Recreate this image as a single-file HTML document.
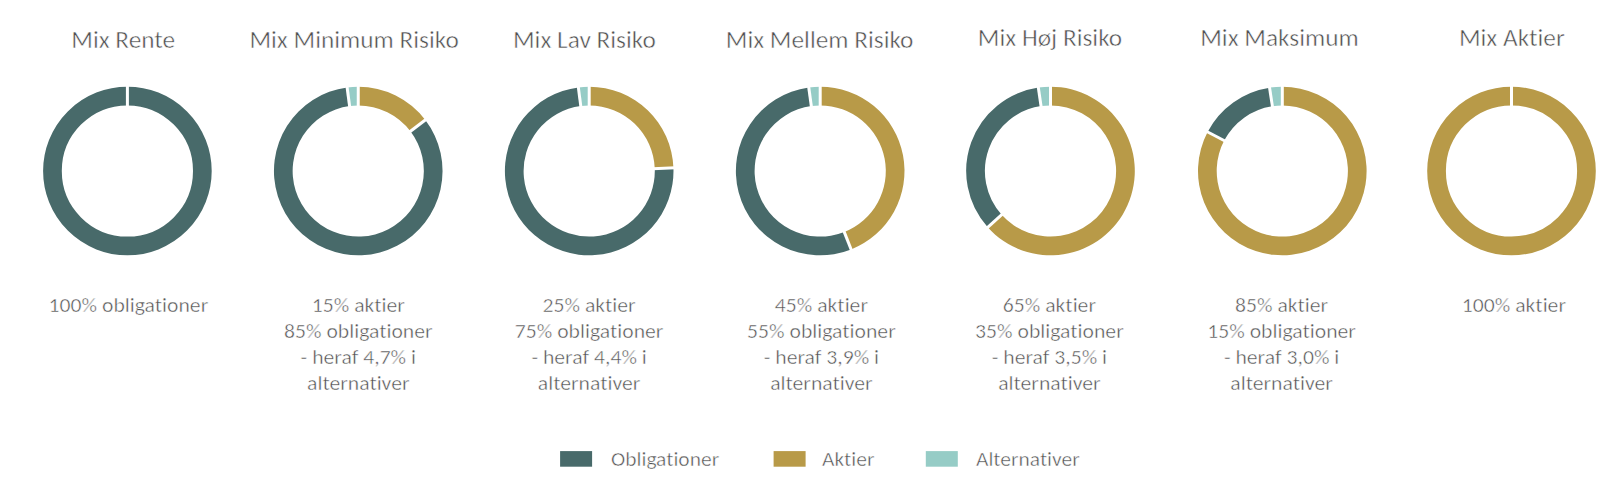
<!DOCTYPE html>
<html><head><meta charset="utf-8"><title>Mix fordeling</title>
<style>
html,body{margin:0;padding:0;background:#fff;}
body{width:1610px;height:479px;overflow:hidden;}
svg{display:block;}
text{font-family:Carlito, 'Liberation Sans', sans-serif;fill:#4f4f4f;stroke:#fff;stroke-width:0.5px;font-variant-ligatures:none;font-feature-settings:'liga' 0;}
.t{font-size:25.3px;text-anchor:middle;}
.l{font-size:21.7px;text-anchor:middle;}
.g{font-size:21.5px;}
</style></head><body>
<svg width="1610" height="479" viewBox="0 0 1610 479">
<rect width="1610" height="479" fill="#fff"/>
<circle cx="127.4" cy="171.0" r="74.950" fill="none" stroke="#486a6a" stroke-width="18.700"/>
<line x1="127.40" y1="107.40" x2="127.40" y2="84.70" stroke="#fff" stroke-width="3.0"/>
<path d="M358.25 86.70A84.3 84.3 0 0 1 425.31 119.92L410.43 131.25A65.6 65.6 0 0 0 358.25 105.40Z" fill="#b89a48"/>
<path d="M425.31 119.92A84.3 84.3 0 1 1 347.10 87.44L349.57 105.98A65.6 65.6 0 1 0 410.43 131.25Z" fill="#486a6a"/>
<path d="M347.10 87.44A84.3 84.3 0 0 1 358.25 86.70L358.25 105.40A65.6 65.6 0 0 0 349.57 105.98Z" fill="#96ccc6"/>
<line x1="358.25" y1="107.40" x2="358.25" y2="84.70" stroke="#fff" stroke-width="3.0"/>
<line x1="408.84" y1="132.46" x2="426.90" y2="118.70" stroke="#fff" stroke-width="3.0"/>
<line x1="349.84" y1="107.96" x2="346.84" y2="85.46" stroke="#fff" stroke-width="3.0"/>
<path d="M589.20 86.70A84.3 84.3 0 0 1 673.44 167.91L654.76 168.60A65.6 65.6 0 0 0 589.20 105.40Z" fill="#b89a48"/>
<path d="M673.44 167.91A84.3 84.3 0 1 1 578.34 87.40L580.75 105.95A65.6 65.6 0 1 0 654.76 168.60Z" fill="#486a6a"/>
<path d="M578.34 87.40A84.3 84.3 0 0 1 589.20 86.70L589.20 105.40A65.6 65.6 0 0 0 580.75 105.95Z" fill="#96ccc6"/>
<line x1="589.20" y1="107.40" x2="589.20" y2="84.70" stroke="#fff" stroke-width="3.0"/>
<line x1="652.76" y1="168.67" x2="675.44" y2="167.84" stroke="#fff" stroke-width="3.0"/>
<line x1="581.01" y1="107.93" x2="578.08" y2="85.42" stroke="#fff" stroke-width="3.0"/>
<path d="M820.20 86.70A84.3 84.3 0 0 1 851.10 249.43L844.24 232.04A65.6 65.6 0 0 0 820.20 105.40Z" fill="#b89a48"/>
<path d="M851.10 249.43A84.3 84.3 0 1 1 808.76 87.48L811.30 106.01A65.6 65.6 0 1 0 844.24 232.04Z" fill="#486a6a"/>
<path d="M808.76 87.48A84.3 84.3 0 0 1 820.20 86.70L820.20 105.40A65.6 65.6 0 0 0 811.30 106.01Z" fill="#96ccc6"/>
<line x1="820.20" y1="107.40" x2="820.20" y2="84.70" stroke="#fff" stroke-width="3.0"/>
<line x1="843.51" y1="230.17" x2="851.83" y2="251.30" stroke="#fff" stroke-width="3.0"/>
<line x1="811.57" y1="107.99" x2="808.49" y2="85.50" stroke="#fff" stroke-width="3.0"/>
<path d="M1050.50 86.70A84.3 84.3 0 1 1 987.75 227.30L1001.67 214.81A65.6 65.6 0 1 0 1050.50 105.40Z" fill="#b89a48"/>
<path d="M987.75 227.30A84.3 84.3 0 0 1 1038.33 87.58L1041.03 106.09A65.6 65.6 0 0 0 1001.67 214.81Z" fill="#486a6a"/>
<path d="M1038.33 87.58A84.3 84.3 0 0 1 1050.50 86.70L1050.50 105.40A65.6 65.6 0 0 0 1041.03 106.09Z" fill="#96ccc6"/>
<line x1="1050.50" y1="107.40" x2="1050.50" y2="84.70" stroke="#fff" stroke-width="3.0"/>
<line x1="1003.16" y1="213.47" x2="986.27" y2="228.63" stroke="#fff" stroke-width="3.0"/>
<line x1="1041.32" y1="108.07" x2="1038.04" y2="85.60" stroke="#fff" stroke-width="3.0"/>
<path d="M1282.30 86.70A84.3 84.3 0 1 1 1207.59 131.94L1224.17 140.61A65.6 65.6 0 1 0 1282.30 105.40Z" fill="#b89a48"/>
<path d="M1207.59 131.94A84.3 84.3 0 0 1 1269.55 87.67L1272.38 106.15A65.6 65.6 0 0 0 1224.17 140.61Z" fill="#486a6a"/>
<path d="M1269.55 87.67A84.3 84.3 0 0 1 1282.30 86.70L1282.30 105.40A65.6 65.6 0 0 0 1272.38 106.15Z" fill="#96ccc6"/>
<line x1="1282.30" y1="107.40" x2="1282.30" y2="84.70" stroke="#fff" stroke-width="3.0"/>
<line x1="1225.94" y1="141.53" x2="1205.82" y2="131.02" stroke="#fff" stroke-width="3.0"/>
<line x1="1272.68" y1="108.13" x2="1269.25" y2="85.69" stroke="#fff" stroke-width="3.0"/>
<circle cx="1511.5" cy="171.0" r="74.950" fill="none" stroke="#b89a48" stroke-width="18.700"/>
<line x1="1511.50" y1="107.40" x2="1511.50" y2="84.70" stroke="#fff" stroke-width="3.0"/>
<text x="123.2" y="48.0" class="t" textLength="103.84" lengthAdjust="spacingAndGlyphs">Mix Rente</text>
<text x="354.1" y="47.6" class="t" textLength="209.3" lengthAdjust="spacingAndGlyphs">Mix Minimum Risiko</text>
<text x="584.4" y="47.9" class="t" textLength="142.83" lengthAdjust="spacingAndGlyphs">Mix Lav Risiko</text>
<text x="819.6" y="47.6" class="t" textLength="187.69" lengthAdjust="spacingAndGlyphs">Mix Mellem Risiko</text>
<text x="1050.0" y="45.9" class="t" textLength="144.27" lengthAdjust="spacingAndGlyphs">Mix Høj Risiko</text>
<text x="1279.5" y="45.7" class="t" textLength="158.53" lengthAdjust="spacingAndGlyphs">Mix Maksimum</text>
<text x="1511.8" y="45.7" class="t" textLength="105.81" lengthAdjust="spacingAndGlyphs">Mix Aktier</text>
<text transform="translate(128.4 311.50) scale(1 0.94)" class="l" textLength="159.59" lengthAdjust="spacingAndGlyphs">100% obligationer</text>
<text transform="translate(358.3 311.50) scale(1 0.94)" class="l" textLength="93.13" lengthAdjust="spacingAndGlyphs">15% aktier</text>
<text transform="translate(358.3 337.80) scale(1 0.94)" class="l" textLength="148.61" lengthAdjust="spacingAndGlyphs">85% obligationer</text>
<text transform="translate(358.3 364.10) scale(1 0.94)" class="l" textLength="115.41" lengthAdjust="spacingAndGlyphs">- heraf 4,7% i</text>
<text transform="translate(358.3 390.40) scale(1 0.94)" class="l" textLength="102.51" lengthAdjust="spacingAndGlyphs">alternativer</text>
<text transform="translate(589.1 311.50) scale(1 0.94)" class="l" textLength="93.13" lengthAdjust="spacingAndGlyphs">25% aktier</text>
<text transform="translate(589.1 337.80) scale(1 0.94)" class="l" textLength="148.61" lengthAdjust="spacingAndGlyphs">75% obligationer</text>
<text transform="translate(589.1 364.10) scale(1 0.94)" class="l" textLength="115.41" lengthAdjust="spacingAndGlyphs">- heraf 4,4% i</text>
<text transform="translate(589.1 390.40) scale(1 0.94)" class="l" textLength="102.51" lengthAdjust="spacingAndGlyphs">alternativer</text>
<text transform="translate(821.4 311.50) scale(1 0.94)" class="l" textLength="93.13" lengthAdjust="spacingAndGlyphs">45% aktier</text>
<text transform="translate(821.4 337.80) scale(1 0.94)" class="l" textLength="148.61" lengthAdjust="spacingAndGlyphs">55% obligationer</text>
<text transform="translate(821.4 364.10) scale(1 0.94)" class="l" textLength="115.41" lengthAdjust="spacingAndGlyphs">- heraf 3,9% i</text>
<text transform="translate(821.4 390.40) scale(1 0.94)" class="l" textLength="102.51" lengthAdjust="spacingAndGlyphs">alternativer</text>
<text transform="translate(1049.4 311.50) scale(1 0.94)" class="l" textLength="93.13" lengthAdjust="spacingAndGlyphs">65% aktier</text>
<text transform="translate(1049.4 337.80) scale(1 0.94)" class="l" textLength="148.61" lengthAdjust="spacingAndGlyphs">35% obligationer</text>
<text transform="translate(1049.4 364.10) scale(1 0.94)" class="l" textLength="115.41" lengthAdjust="spacingAndGlyphs">- heraf 3,5% i</text>
<text transform="translate(1049.4 390.40) scale(1 0.94)" class="l" textLength="102.51" lengthAdjust="spacingAndGlyphs">alternativer</text>
<text transform="translate(1281.6 311.50) scale(1 0.94)" class="l" textLength="93.13" lengthAdjust="spacingAndGlyphs">85% aktier</text>
<text transform="translate(1281.6 337.80) scale(1 0.94)" class="l" textLength="148.61" lengthAdjust="spacingAndGlyphs">15% obligationer</text>
<text transform="translate(1281.6 364.10) scale(1 0.94)" class="l" textLength="115.41" lengthAdjust="spacingAndGlyphs">- heraf 3,0% i</text>
<text transform="translate(1281.6 390.40) scale(1 0.94)" class="l" textLength="102.51" lengthAdjust="spacingAndGlyphs">alternativer</text>
<text transform="translate(1513.9 311.50) scale(1 0.94)" class="l" textLength="104.12" lengthAdjust="spacingAndGlyphs">100% aktier</text>
<rect x="560.1" y="451.1" width="32" height="15.6" fill="#486a6a"/>
<text transform="translate(611 465.6) scale(1 0.94)" class="g" textLength="108.16" lengthAdjust="spacingAndGlyphs">Obligationer</text>
<rect x="773.6" y="451.1" width="32" height="15.6" fill="#b89a48"/>
<text transform="translate(822 465.6) scale(1 0.94)" class="g" textLength="52.44" lengthAdjust="spacingAndGlyphs">Aktier</text>
<rect x="925.8" y="451.1" width="32" height="15.6" fill="#96ccc6"/>
<text transform="translate(976 465.6) scale(1 0.94)" class="g" textLength="103.74" lengthAdjust="spacingAndGlyphs">Alternativer</text>
</svg>
</body></html>
